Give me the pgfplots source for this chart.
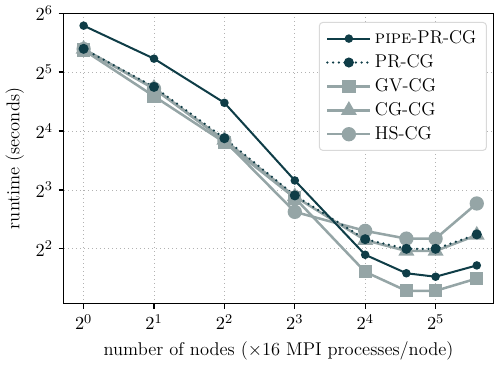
\documentclass[border=0pt]{standalone}
\usepackage{pgfplots}
\pgfplotsset{compat=1.18}

\definecolor{darkteal}{HTML}{0F3D47}
\definecolor{lightgrey}{HTML}{95A5A6}

\begin{document}
\begin{tikzpicture}[font=\fontsize{11}{13}\selectfont]
\begin{axis}[
  scale only axis,
  width=256pt, height=173pt,
  xmode=log, ymode=log,
  log basis x=2, log basis y=2,
  xmin=0.822, xmax=56.5,
  ymin=2.1, ymax=64,
  xtick={1,2,4,8,16,32},
  ytick={4,8,16,32,64},
  tick align=outside,
  xtick pos=bottom, ytick pos=left,
  major tick length=3pt,
  tick style={black, line width=0.8pt},
  minor tick num=0,
  axis line style={line width=0.8pt},
  grid=major,
  major grid style={dotted, black!30, line width=0.5pt},
  every tick label/.append style={font=\fontsize{11}{13}\selectfont},
  label style={font=\fontsize{11}{13}\selectfont},
  xlabel={number of nodes ($\times$16 MPI processes/node)},
  ylabel={runtime (seconds)},
  reverse legend,
  legend cell align=left,
  legend style={at={(0.985,0.97)}, anchor=north east,
    font=\fontsize{11}{13}\selectfont,
    rounded corners=2pt, draw=black!15, line width=0.6pt,
    row sep=1pt, inner xsep=4pt, inner ysep=3pt},
  legend image code/.code={
    \draw[mark repeat=2, mark phase=2]
      plot coordinates {(0cm,0cm) (0.45cm,0cm) (0.9cm,0cm)};
  },
]

% HS-CG
\addplot[color=lightgrey, line width=1.5pt, mark=*, mark size=3.5pt]
  coordinates {(1,42) (2,26.3) (4,14.3) (8,6.18) (16,4.94) (24,4.51) (32,4.51) (48,6.82)};
\addlegendentry{HS-CG}

% CG-CG
\addplot[color=lightgrey, line width=1.5pt, mark=triangle*, mark size=4pt]
  coordinates {(1,42) (2,26.5) (4,14.4) (8,7.4) (16,4.43) (24,3.9) (32,3.9) (48,4.7)};
\addlegendentry{CG-CG}

% GV-CG
\addplot[color=lightgrey, line width=1.5pt, mark=square*, mark size=3.2pt]
  coordinates {(1,41.5) (2,24.1) (4,14.0) (8,7.28) (16,3.05) (24,2.44) (32,2.44) (48,2.82)};
\addlegendentry{GV-CG}

% PR-CG
\addplot[color=darkteal, line width=1.5pt, line cap=round,
  dash pattern=on 0pt off 3.4pt, mark=*, mark size=2.2pt,
  mark options={solid}]
  coordinates {(1,42.1) (2,26.9) (4,14.7) (8,7.5) (16,4.48) (24,4.0) (32,4.0) (48,4.74)};
\addlegendentry{PR-CG}

% pipe-PR-CG
\addplot[color=darkteal, line width=1.2pt, mark=*, mark size=1.9pt]
  coordinates {(1,55.3) (2,37.5) (4,22.3) (8,8.94) (16,3.73) (24,3.0) (32,2.88) (48,3.29)};
\addlegendentry{\textsc{pipe}-PR-CG}

\end{axis}
\end{tikzpicture}
\end{document}
